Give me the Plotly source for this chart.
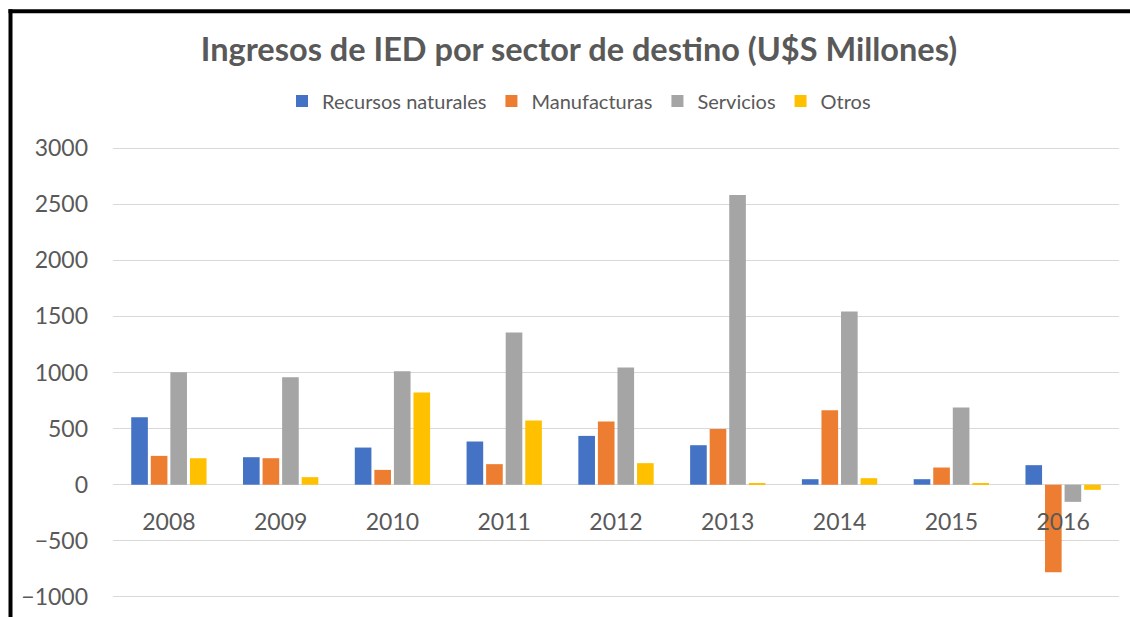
import plotly.graph_objects as go

years = ["2008", "2009", "2010", "2011", "2012", "2013", "2014", "2015", "2016"]
recursos = [601, 245, 331, 385, 435, 352, 49, 49, 174]
manufacturas = [257, 236, 132, 183, 563, 497, 664, 153, -780]
servicios = [1003, 958, 1012, 1357, 1044, 2583, 1544, 688, -153]
otros = [236, 67, 822, 572, 192, 13, 58, 13, -46]

series = [
    ("Recursos naturales", recursos, "#4472C4"),
    ("Manufacturas", manufacturas, "#ED7D31"),
    ("Servicios", servicios, "#A5A5A5"),
    ("Otros", otros, "#FFC000"),
]

# body margin is removed by the post script, so page px == figure px
OFF = 0
W, H = 1130, 617
ML, MR, MT, MB = 113, 11, 147, 19
PW = W - ML - MR
PH = H - MT - MB
YMIN, YMAX = -1010, 3010

def px_x(x):  # page px -> paper x
    return (x - OFF - ML) / PW

def px_y(y):  # page px -> paper y
    return 1 + (MT - (y - OFF)) / PH

fig = go.Figure()
for name, vals, color in series:
    fig.add_trace(go.Bar(
        x=years, y=vals, name=name,
        marker=dict(color=color, line=dict(width=0)),
    ))

FONT = "Lato"
fig.update_layout(
    width=W, height=H,
    margin=dict(l=ML, r=MR, t=MT, b=MB, autoexpand=False),
    paper_bgcolor="white", plot_bgcolor="white",
    barmode="group", bargap=0.3, bargroupgap=0.15,
    font=dict(family=FONT, color="#595959"),
    title=dict(
        text="<b>Ingresos de IED por sector de destino (U$S Millones)</b>",
        font=dict(family=FONT, size=32.5, color="#595959"),
        x=px_x(579), xref="paper", xanchor="center",
        y=1 - (50 - OFF) / H, yref="container", yanchor="middle",
    ),
    legend=dict(
        orientation="h", x=px_x(579), xanchor="center",
        y=px_y(101), yanchor="middle",
        font=dict(family=FONT, size=20, color="#595959"),
        itemwidth=30, traceorder="normal",
    ),
    showlegend=True,
)
fig.update_xaxes(
    type="category", anchor="free", position=(0 - YMIN) / (YMAX - YMIN),
    showgrid=False, showline=False, ticks="",
    tickfont=dict(family=FONT, size=23, color="#595959"),
    ticklabelstandoff=21,
)
fig.update_yaxes(
    range=[YMIN, YMAX], dtick=500, tick0=0,
    showgrid=True, gridcolor="#D9D9D9", gridwidth=1,
    zeroline=True, zerolinecolor="#D9D9D9", zerolinewidth=1,
    showline=False, ticks="", ticklabeloverflow="allow",
    tickfont=dict(family=FONT, size=23, color="#595959"),
    ticklabelstandoff=24,
)

# decorative frame (black border of the screenshot)
fig.add_shape(type="line", xref="paper", yref="paper",
              x0=px_x(10.5), x1=px_x(10.5), y0=px_y(630), y1=px_y(9.3),
              line=dict(color="black", width=4))
fig.add_shape(type="line", xref="paper", yref="paper",
              x0=px_x(8.5), x1=px_x(1140), y0=px_y(11.3), y1=px_y(11.3),
              line=dict(color="black", width=4))

fig.write_html(
    "out.html",
    config={"displayModeBar": False},
    post_script="document.body.style.margin='0';"
                "document.documentElement.style.overflow='hidden';"
                "document.body.style.overflow='hidden';",
)
